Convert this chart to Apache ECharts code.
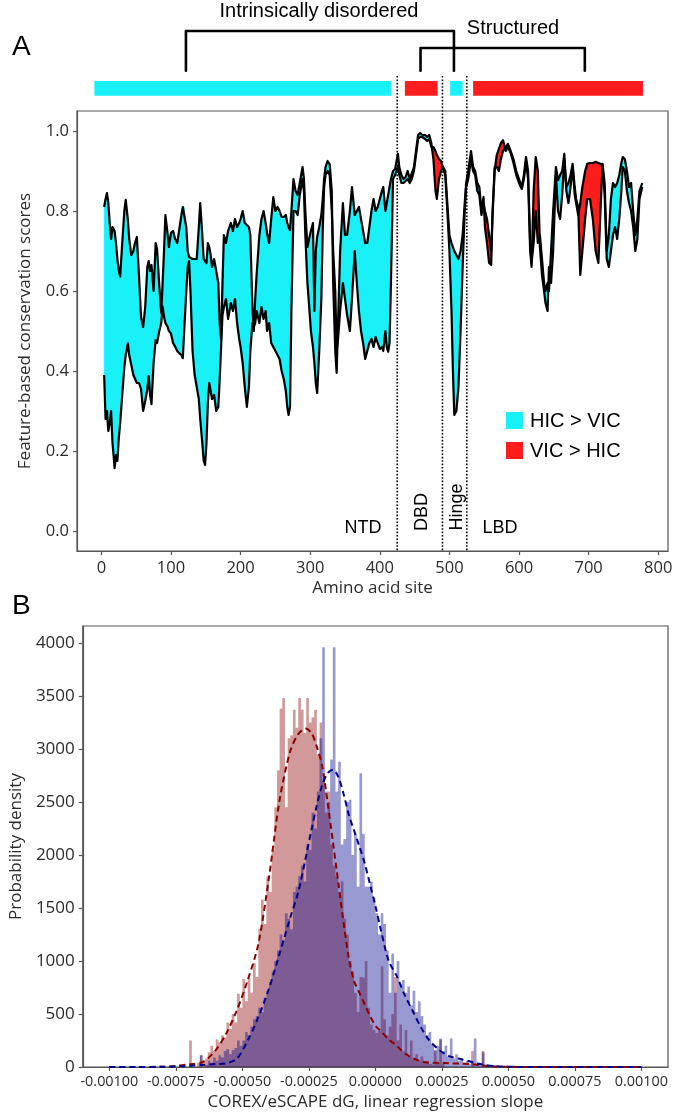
<!DOCTYPE html>
<html lang="en">
<head>
<meta charset="UTF-8">
<title>Conservation scores and COREX slopes</title>
<script src="https://cdn.jsdelivr.net/npm/echarts@6/dist/echarts.min.js"></script>
<style>
  html, body { margin: 0; padding: 0; background: #fff; }
  #chart { width: 677px; height: 1116px; }
</style>
</head>
<body>
<div id="chart"></div>
<script>
// ---------- panel A: feature-based conservation per amino acid site ----------
const sites = [4,6,8,10,12,14,16,18,19,21,23,25,27,30,33,35,38,40,43,46,48,51,54,57,60,63,66,68,70,72,75,78,80,83,86,88,90,92,95,97,
  100,103,106,109,112,115,117,119,122,124,126,128,131,134,137,140,142,145,147,149,151,153,155,157,159,162,165,168,170,172,174,176,179,182,186,189,192,195,198,
  200,203,206,209,212,214,217,219,221,223,227,230,233,236,238,241,244,247,250,253,256,259,262,265,267,269,271,273,276,279,282,285,289,291,293,296,299,
  301,304,306,308,310,313,316,318,320,322,325,328,331,333,336,338,340,343,347,350,353,357,360,364,367,370,373,376,379,382,385,388,391,394,397,
  400,403,405,408,410,412,414,416,419,422,424,426,428,431,434,437,440,443,446,449,452,455,458,461,465,468,471,474,477,480,482,485,488,491,494,497,
  500,503,505,507,510,513,516,519,522,524,527,531,534,537,540,543,546,549,551,554,557,560,562,565,568,571,574,577,581,584,588,592,596,
  600,604,607,610,613,616,618,621,624,627,630,633,636,638,641,643,646,649,653,656,659,662,665,668,671,674,677,680,682,685,688,691,695,698,
  702,706,710,714,717,720,723,726,729,732,735,738,741,744,747,749,752,755,758,761,764,767,770,773,777];
const hic = [.81,.83,.845,.82,.77,.73,.76,.755,.75,.72,.68,.652,.636,.72,.80,.828,.78,.73,.69,.70,.718,.735,.64,.535,.51,.56,.66,.675,.65,.665,.60,.72,.705,.62,.545,.62,.70,.79,.745,.71,
  .745,.75,.73,.72,.755,.79,.81,.81,.76,.70,.685,.68,.68,.68,.68,.76,.82,.74,.68,.675,.67,.72,.71,.69,.66,.68,.65,.62,.52,.48,.62,.74,.72,.75,.77,.75,.78,.76,.77,
  .78,.80,.77,.765,.76,.74,.56,.50,.58,.64,.74,.78,.80,.77,.745,.72,.78,.835,.80,.81,.80,.785,.785,.79,.77,.76,.752,.80,.88,.85,.84,.87,.91,.88,.80,.71,.735,
  .75,.77,.55,.70,.735,.76,.79,.83,.88,.91,.925,.917,.85,.62,.45,.395,.52,.70,.82,.74,.74,.80,.86,.79,.80,.81,.78,.75,.72,.72,.76,.80,.83,.80,.81,
  .83,.85,.86,.80,.82,.84,.86,.88,.90,.905,.91,.943,.91,.89,.88,.885,.90,.88,.895,.91,.95,.99,.995,.99,.99,.985,.99,.97,.93,.85,.83,.88,.90,.91,.90,.82,
  .74,.72,.71,.70,.69,.68,.70,.74,.82,.87,.90,.95,.91,.90,.87,.86,.80,.835,.76,.72,.67,.665,.80,.91,.91,.90,.93,.95,.96,.968,.95,.93,.90,
  .88,.86,.89,.935,.90,.72,.67,.72,.80,.72,.74,.68,.62,.60,.62,.60,.70,.80,.91,.877,.89,.90,.943,.86,.87,.89,.918,.86,.83,.81,.64,.70,.78,.83,
  .83,.78,.70,.67,.80,.918,.87,.70,.74,.83,.87,.86,.87,.89,.92,.935,.93,.90,.86,.87,.80,.74,.78,.85,.87];
const vic = [.39,.28,.30,.25,.27,.30,.22,.18,.157,.19,.175,.23,.27,.34,.41,.44,.469,.44,.415,.39,.386,.37,.37,.355,.30,.325,.354,.3875,.34,.317,.419,.4775,.47,.498,.52,.561,.536,.52,.511,.50,
  .494,.47,.461,.45,.444,.44,.432,.50,.60,.66,.675,.60,.45,.39,.36,.33,.28,.22,.175,.165,.22,.32,.37,.35,.33,.34,.30,.31,.38,.46,.54,.56,.58,.53,.57,.55,.58,.52,.48,
  .46,.42,.36,.31,.36,.45,.52,.51,.52,.55,.52,.56,.53,.55,.50,.52,.47,.46,.45,.44,.43,.40,.38,.35,.31,.29,.31,.55,.80,.80,.79,.84,.88,.85,.74,.62,.55,
  .50,.46,.42,.37,.345,.45,.58,.75,.86,.89,.90,.89,.80,.70,.60,.45,.48,.55,.62,.58,.54,.50,.58,.70,.62,.55,.50,.47,.43,.45,.47,.48,.46,.485,.47,
  .455,.46,.45,.50,.46,.448,.47,.62,.88,.89,.89,.91,.89,.87,.87,.875,.88,.87,.88,.90,.94,.98,.985,.985,.98,.975,.98,.96,.96,.95,.94,.93,.925,.905,.89,.80,
  .70,.55,.40,.29,.30,.36,.50,.66,.80,.86,.88,.93,.90,.89,.85,.84,.79,.82,.80,.78,.74,.70,.79,.90,.94,.955,.97,.977,.95,.96,.945,.92,.89,
  .87,.855,.88,.925,.88,.70,.66,.85,.935,.90,.71,.64,.60,.57,.55,.66,.62,.70,.89,.80,.78,.84,.93,.85,.82,.86,.91,.84,.82,.79,.82,.86,.90,.918,
  .92,.92,.923,.92,.918,.915,.84,.68,.66,.70,.74,.76,.73,.78,.85,.91,.90,.85,.82,.80,.76,.70,.73,.83,.86];

// protein domains along the sequence
const domainStart = [-10, 436, 501, 534];
const domainEnd = [416, 483, 519, 778];
const domainIsHic = [true, false, true, false];
const domainBounds = [425, 490, 525];
const bracketDisordered = [121.5, 506.5];
const bracketStructured = [458.5, 694.5];

// ---------- panel B: histogram of COREX/eSCAPE dG slopes ----------
const binStart = -0.00072;
const binWidth = 0.00001;
const redHist = [
  0, 0, 250, 0, 0, 40, 110, 60, 80, 140,
  200, 150, 260, 230, 300, 280, 420, 360, 500, 420,
  690, 560, 830, 620, 840, 700, 980, 850, 1300, 1580,
  1350, 1800, 1650, 2050, 2450, 2800, 3380, 3480, 2450, 3100,
  3130, 3370, 3200, 3480, 3370, 3150, 3480, 3250, 3300, 3370,
  2950, 3250, 2700, 2400, 2600, 2100, 1900, 1800, 1650, 1750,
  1400, 1250, 1000, 900, 700, 520, 850, 840, 1000, 560,
  400, 350, 320, 340, 950, 450, 300, 380, 500, 850,
  250, 400, 150, 350, 100, 250, 80, 120, 60, 100,
  40, 60, 30, 20, 150, 40, 260, 30, 0, 0,
  0, 0, 0, 0, 0, 0, 0, 0, 150, 0,
  0, 0, 150, 0, 0];
const blueHist = [
  0, 0, 0, 0, 0, 0, 110, 0, 20, 60,
  40, 90, 60, 110, 90, 150, 170, 120, 160, 180,
  250, 200, 250, 330, 300, 380, 450, 480, 560, 520,
  650, 720, 800, 900, 1000, 1100, 1250, 1200, 1450, 1400,
  1300, 1650, 1700, 1800, 1900, 1750, 2100, 2050, 2400, 2250,
  2600, 3100, 3960, 2600, 2500, 2900, 3960, 2600, 2880, 2100,
  2150, 2500, 2520, 2000, 2200, 1700, 2770, 2200, 1700, 1700,
  1750, 1600, 1450, 1250, 1450, 1350, 1100, 700, 1070, 700,
  1000, 780, 820, 700, 760, 580, 720, 520, 620, 480,
  400, 300, 330, 220, 160, 200, 270, 150, 200, 100,
  270, 80, 120, 60, 80, 40, 60, 30, 50, 270,
  30, 20, 140, 10, 0];
const kdeX = [-0.001, -0.0009, -0.0008, -0.00075, -0.0007, -0.00065, -0.0006, -0.00056, -0.00052, -0.00048,
  -0.00044, -0.0004, -0.00036, -0.00032, -0.00029, -0.000263, -0.00024, -0.00022, -0.0002, -0.00018,
  -0.00016, -0.00014, -0.00012, -0.0001, -0.00008, -0.00006, -0.00004, -0.00002, 0, 0.00002,
  0.00005, 0.00008, 0.00011, 0.00014, 0.00017, 0.0002, 0.00024, 0.00028, 0.00032, 0.00036,
  0.0004, 0.00045, 0.0005, 0.0006, 0.0008, 0.001];
const kdeRed = [0, 0, 2, 10, 25, 45, 160, 320, 540, 820,
  1160, 1790, 2520, 2980, 3140, 3192, 3150, 3020, 2840, 2500,
  2130, 1750, 1370, 1030, 810, 700, 590, 480, 390, 340,
  260, 200, 130, 85, 55, 40, 40, 35, 32, 28,
  15, 5, 2, 0, 0, 0];
const kdeBlue = [0, 0, 2, 5, 10, 20, 28, 35, 80, 250,
  470, 740, 1070, 1410, 1650, 1960, 2240, 2470, 2660, 2770,
  2805, 2740, 2580, 2380, 2230, 2080, 1920, 1720, 1520, 1300,
  1000, 860, 680, 530, 380, 260, 160, 100, 75, 50,
  25, 8, 2, 0, 0, 0];

// ---------- ticks ----------
const ticksAX = [0, 100, 200, 300, 400, 500, 600, 700, 800];
const ticksAY = [0, 0.2, 0.4, 0.6, 0.8, 1.0];
const ticksBX = [-0.001, -0.00075, -0.0005, -0.00025, 0, 0.00025, 0.0005, 0.00075, 0.001];
const ticksBY = [0, 500, 1000, 1500, 2000, 2500, 3000, 3500, 4000];

const CYAN = '#19f0f8';
const RED = '#ff1c1c';
const AXIS = '#555';
const TXT = '#2b2b2b';

// split the gap between the two curves into runs of one sign (crossings interpolated)
function fillRuns() {
  const runs = [];
  let cur = null;
  for (let i = 0; i < sites.length; i++) {
    const d = hic[i] - vic[i];
    const s = d >= 0 ? 1 : -1;
    if (!cur) { cur = { sign: s, pts: [[sites[i], hic[i], vic[i]]] }; continue; }
    if (s === cur.sign) { cur.pts.push([sites[i], hic[i], vic[i]]); continue; }
    const d0 = hic[i - 1] - vic[i - 1];
    const t = d0 / (d0 - d);
    const xc = sites[i - 1] + t * (sites[i] - sites[i - 1]);
    const yc = hic[i - 1] + t * (hic[i] - hic[i - 1]);
    cur.pts.push([xc, yc, yc]);
    runs.push(cur);
    cur = { sign: s, pts: [[xc, yc, yc], [sites[i], hic[i], vic[i]]] };
  }
  runs.push(cur);
  return runs;
}
const runs = fillRuns();

function histData(vals) {
  const d = vals.map((v, i) => [binStart + i * binWidth, v]);
  d.push([binStart + vals.length * binWidth, 0]);
  return d;
}

// layout of the annotation strip above panel A (page pixels, y grows downwards)
const BAR_TOP = 81, BAR_BOTTOM = 95.7, DOT_TOP = 76, A_BOTTOM = 551;
const LEG_BOTTOM = 70.7, DIS_TOP = 31, STR_TOP = 48;

const axisCommon = {
  axisLine: { show: true, onZero: false, lineStyle: { color: AXIS, width: 1.2 } },
  axisTick: { show: true, length: 4, lineStyle: { color: AXIS, width: 1.2 } },
  splitLine: { show: false },
  nameLocation: 'middle',
  nameTextStyle: { fontFamily: 'Open Sans', fontSize: 17, color: TXT }
};

const chart = echarts.init(document.getElementById('chart'), null, { renderer: 'canvas' });

const series = [];

// fill between the curves
series.push({
  type: 'custom',
  xAxisIndex: 0, yAxisIndex: 0,
  z: 2,
  data: runs.map((r, k) => [r.pts[0][0], r.pts[0][1], k]),
  encode: { x: 0, y: 1 },
  renderItem: function (params, api) {
    const run = runs[params.dataIndex];
    const top = run.pts.map(p => api.coord([p[0], p[1]]));
    const bottom = run.pts.slice().reverse().map(p => api.coord([p[0], p[2]]));
    const col = run.sign > 0 ? CYAN : RED;
    return {
      type: 'polygon',
      shape: { points: top.concat(bottom) },
      style: { fill: col, stroke: col, lineWidth: 0.5 }
    };
  },
  silent: true
});

[hic, vic].forEach(vals => {
  series.push({
    type: 'line',
    xAxisIndex: 0, yAxisIndex: 0,
    z: 3,
    data: sites.map((s, i) => [s, vals[i]]),
    showSymbol: false,
    symbol: 'none',
    lineStyle: { color: '#000', width: 2.2, join: 'round' },
    silent: true
  });
});

// domain bars above panel A
series.push({
  type: 'custom',
  xAxisIndex: 1, yAxisIndex: 1,
  z: 2,
  data: domainStart.map((s, i) => [s, domainEnd[i], i]),
  encode: { x: [0, 1] },
  renderItem: function (params, api) {
    const i = params.dataIndex;
    const p0 = api.coord([domainStart[i], BAR_TOP]);
    const p1 = api.coord([domainEnd[i], BAR_BOTTOM]);
    return {
      type: 'rect',
      shape: { x: p0[0], y: p0[1], width: p1[0] - p0[0], height: p1[1] - p0[1] },
      style: { fill: domainIsHic[i] ? CYAN : RED }
    };
  },
  silent: true
});

// dotted domain boundaries
domainBounds.forEach(b => {
  series.push({
    type: 'line',
    xAxisIndex: 1, yAxisIndex: 1,
    z: 5,
    data: [[b, DOT_TOP], [b, A_BOTTOM]],
    symbol: 'none',
    lineStyle: { color: '#000', width: 1.6, type: [1.6, 1.8] },
    silent: true
  });
});

// brackets
[[bracketDisordered, DIS_TOP], [bracketStructured, STR_TOP]].forEach(([br, top]) => {
  series.push({
    type: 'line',
    xAxisIndex: 1, yAxisIndex: 1,
    z: 5,
    data: [[br[0], LEG_BOTTOM], [br[0], top], [br[1], top], [br[1], LEG_BOTTOM]],
    symbol: 'none',
    lineStyle: { color: '#000', width: 2.6, join: 'round', cap: 'round' },
    silent: true
  });
});

// panel B histograms (red first, blue drawn over it)
[[redHist, 'rgba(139,0,0,0.4)'], [blueHist, 'rgba(0,0,139,0.4)']].forEach(([vals, col]) => {
  series.push({
    type: 'line',
    xAxisIndex: 2, yAxisIndex: 2,
    z: 2,
    step: 'end',
    data: histData(vals),
    symbol: 'none',
    lineStyle: { width: 0 },
    areaStyle: { color: col, opacity: 1 },
    silent: true
  });
});

[[kdeRed, '#8b0000'], [kdeBlue, '#00008b']].forEach(([vals, col]) => {
  series.push({
    type: 'line',
    xAxisIndex: 2, yAxisIndex: 2,
    z: 4,
    smooth: 0.3,
    data: kdeX.map((x, i) => [x, vals[i]]),
    symbol: 'none',
    lineStyle: { color: col, width: 2, type: [6, 4] },
    silent: true
  });
});

const lbl = { fontFamily: 'Open Sans', fontSize: 16.5, color: TXT };

chart.setOption({
  animation: false,
  backgroundColor: '#fff',
  grid: [
    { left: 77, right: 9, top: 111, height: 440, show: true, borderColor: AXIS, borderWidth: 1.2 },
    { left: 77, right: 9, top: 0, height: 551, show: false },
    { left: 77, right: 9, top: 626, height: 441, show: true, borderColor: AXIS, borderWidth: 1.2 }
  ],
  xAxis: [
    Object.assign({}, axisCommon, {
      type: 'value', gridIndex: 0, min: -35, max: 814,
      name: 'Amino acid site', nameGap: 29,
      axisTick: Object.assign({}, axisCommon.axisTick, { customValues: ticksAX }),
      axisLabel: Object.assign({}, lbl, { margin: 9, customValues: ticksAX, formatter: v => String(v) })
    }),
    { type: 'value', gridIndex: 1, min: -35, max: 814, show: false },
    Object.assign({}, axisCommon, {
      type: 'value', gridIndex: 2, min: -0.0011, max: 0.0011,
      name: 'COREX/eSCAPE dG, linear regression slope', nameGap: 27,
      axisTick: Object.assign({}, axisCommon.axisTick, { customValues: ticksBX }),
      axisLabel: Object.assign({}, lbl, { fontSize: 14.4, margin: 8, customValues: ticksBX,
        formatter: v => v.toFixed(5) })
    })
  ],
  yAxis: [
    Object.assign({}, axisCommon, {
      type: 'value', gridIndex: 0, min: -0.05, max: 1.05,
      name: 'Feature-based conservation scores', nameGap: 43,
      axisTick: Object.assign({}, axisCommon.axisTick, { customValues: ticksAY }),
      axisLabel: Object.assign({}, lbl, { margin: 8, customValues: ticksAY,
        formatter: v => v.toFixed(1) })
    }),
    { type: 'value', gridIndex: 1, min: 0, max: 551, inverse: true, show: false },
    Object.assign({}, axisCommon, {
      type: 'value', gridIndex: 2, min: 0, max: 4160,
      name: 'Probability density', nameGap: 54,
      axisTick: Object.assign({}, axisCommon.axisTick, { customValues: ticksBY }),
      axisLabel: Object.assign({}, lbl, { fontSize: 17, margin: 8, customValues: ticksBY,
        formatter: v => String(v) })
    })
  ],
  series: series,
  graphic: [
    { type: 'text', left: 12, top: 33, style: { text: 'A', font: '28px "Liberation Sans"', fill: '#000' } },
    { type: 'text', left: 12, top: 592, style: { text: 'B', font: '28px "Liberation Sans"', fill: '#000' } },
    { type: 'text', x: 319, y: 11, style: { text: 'Intrinsically disordered', font: '20px "Liberation Sans"', fill: '#000', align: 'center', verticalAlign: 'middle' } },
    { type: 'text', x: 513, y: 28, style: { text: 'Structured', font: '20px "Liberation Sans"', fill: '#000', align: 'center', verticalAlign: 'middle' } },
    { type: 'text', x: 363, y: 528, style: { text: 'NTD', font: '18px "Liberation Sans"', fill: '#000', align: 'center', verticalAlign: 'middle' } },
    { type: 'text', x: 500, y: 528, style: { text: 'LBD', font: '18px "Liberation Sans"', fill: '#000', align: 'center', verticalAlign: 'middle' } },
    { type: 'text', x: 422, y: 512, rotation: Math.PI / 2, style: { text: 'DBD', font: '18px "Liberation Sans"', fill: '#000', align: 'center', verticalAlign: 'middle' } },
    { type: 'text', x: 457, y: 507, rotation: Math.PI / 2, style: { text: 'Hinge', font: '18px "Liberation Sans"', fill: '#000', align: 'center', verticalAlign: 'middle' } },
    { type: 'rect', shape: { x: 506, y: 412, width: 17, height: 17 }, style: { fill: CYAN } },
    { type: 'rect', shape: { x: 506, y: 442, width: 17, height: 17 }, style: { fill: RED } },
    { type: 'text', x: 530, y: 421, style: { text: 'HIC > VIC', font: '20px "Liberation Sans"', fill: '#000', verticalAlign: 'middle' } },
    { type: 'text', x: 530, y: 451, style: { text: 'VIC > HIC', font: '20px "Liberation Sans"', fill: '#000', verticalAlign: 'middle' } }
  ]
});
</script>
</body>
</html>
